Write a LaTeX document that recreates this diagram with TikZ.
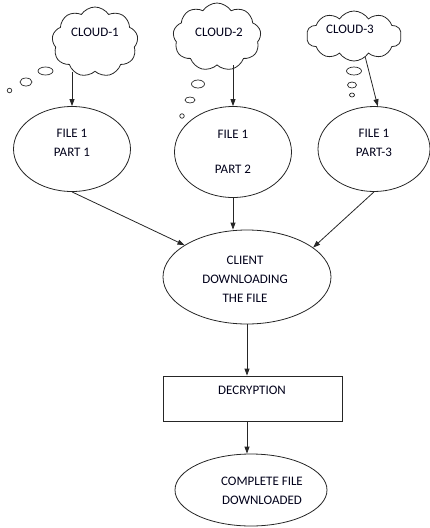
\documentclass[tikz,border=0pt]{standalone}
\usepackage{fontspec}
\setmainfont{Carlito}
\usetikzlibrary{shapes.geometric,shapes.symbols,arrows.meta}
\tikzset{
  ln/.style={draw=black!85, line width=0.8pt},
  arr/.style={ln, -{Triangle[length=7pt,width=5pt]}},
  cloudbox/.style={ln, cloud, cloud puffs=9, cloud puff arc=115, inner sep=0pt},
  oval/.style={ln, ellipse, inner sep=0pt},
  bub/.style={ln, ellipse, inner sep=0pt, line width=0.7pt},
  txt/.style={font=\fontsize{13}{15}\selectfont, align=center, text=black!90!blue},
}
\begin{document}
\begin{tikzpicture}[x=1pt,y=-1pt]
\useasboundingbox (0,0) rectangle (430,528);
% clouds
\node[cloudbox, minimum width=86pt, minimum height=70pt] (c1) at (95,42) {};
\node[cloudbox, minimum width=88pt, minimum height=68pt] (c2) at (217,37) {};
\node[cloudbox, minimum width=95pt, minimum height=50pt, cloud puffs=10] (c3) at (354,36) {};
\node[txt] (t1) at (95,32) {CLOUD-1};
\node[txt] (t2) at (219,32) {CLOUD-2};
\node[txt] (t3) at (350,29) {CLOUD-3};
% thought bubbles
\node[bub, minimum width=15pt, minimum height=8pt] (b11) at (45.5,71) {};
\node[bub, minimum width=12pt, minimum height=8pt] (b12) at (26,82) {};
\node[bub, minimum width=4.5pt, minimum height=4.5pt] (b13) at (9.5,90.5) {};
\node[bub, minimum width=13pt, minimum height=8pt] (b21) at (198,84) {};
\node[bub, minimum width=10pt, minimum height=6pt] (b22) at (190,100) {};
\node[bub, minimum width=4.5pt, minimum height=4.5pt] (b23) at (182,116) {};
\node[bub, minimum width=15pt, minimum height=8pt] (b31) at (354,71) {};
\node[bub, minimum width=9pt, minimum height=6pt] (b32) at (352,85) {};
\node[bub, minimum width=5pt, minimum height=4pt] (b33) at (352,95) {};
% file parts
\node[oval, minimum width=117pt, minimum height=85pt] (e1) at (72,149) {};
\node[txt] (e1t) at (72,143) {FILE 1\\[4pt]PART 1};
\node[oval, minimum width=117pt, minimum height=91pt] (e2) at (233,152) {};
\node[txt] (e2t) at (233,152) {FILE 1\\[20pt]PART 2};
\node[oval, minimum width=112pt, minimum height=85pt] (e3) at (374,149) {};
\node[txt] (e3t) at (374,143) {FILE 1\\[4pt]PART-3};
% client
\node[oval, minimum width=168pt, minimum height=94pt] (cl) at (247,277) {};
\node[txt] (clt) at (245,279) {CLIENT\\[4pt]DOWNLOADING\\[4pt]THE FILE};
% decryption
\node[ln, rectangle, minimum width=179pt, minimum height=45pt, inner sep=0pt] (dec) at (252.5,398.5) {};
\node[txt] (dect) at (252,390) {DECRYPTION};
% final
\node[oval, minimum width=152pt, minimum height=72pt] (fin) at (251,490) {};
\node[txt] (fint) at (262,491) {COMPLETE FILE\\[4pt]DOWNLOADED};
% arrows
\draw[arr] (e1.north |- c1.south) -- (e1.north);
\draw[arr] (e2.north |- c2.south) -- (e2.north);
\draw[arr] (c3.-62) -- (e3.85);
\draw[arr] (e1.south) -- (cl.153);
\draw[arr] (e2.south) -- (e2.south |- cl.north);
\draw[arr] (e3.south) -- (cl.24);
\draw[arr] (cl.south) -- (cl.south |- dec.north);
\draw[arr] (cl.south |- dec.south) -- (cl.south |- fin.north);
\end{tikzpicture}
\end{document}
